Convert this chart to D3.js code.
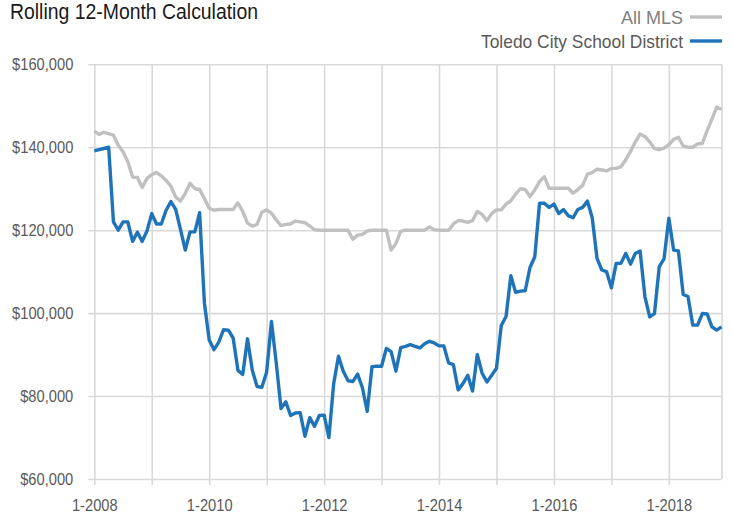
<!DOCTYPE html>
<html>
<head>
<meta charset="utf-8">
<script src="https://cdn.jsdelivr.net/npm/d3@7"></script>
<style>
  body { margin: 0; background: #fff; }
  svg text { font-family: "Liberation Sans", Arial, sans-serif; }
</style>
</head>
<body>
<div id="chart"></div>
<script>
// rolling 12-month median sale price, monthly from 1-2008 to 12-2018
const startYear = 2008;
const yearCount = 11;
const tickLabels = ["1-2008", "1-2010", "1-2012", "1-2014", "1-2016", "1-2018"];
const yTicks = [60000, 80000, 100000, 120000, 140000, 160000];
const seriesNames = ["All MLS", "Toledo City School District"];

const allMls = [
  143900, 143100, 143600, 143300, 142900, 140500, 138900, 136500, 132800, 132700, 130300, 132500,
  133400, 133900, 133100, 132000, 130600, 128000, 127000, 128900, 131300, 130000, 129800, 127600,
  125300, 124800, 125000, 125000, 125000, 125000, 126600, 124500, 121700, 121000, 121400, 124300,
  124900, 124100, 122500, 121100, 121400, 121500, 122200, 122000, 121800, 121000, 120100, 120000,
  120000, 120000, 120000, 120000, 120000, 120000, 117800, 118800, 119000, 119800, 120000, 120000,
  120000, 120000, 115200, 116800, 119700, 120000, 120000, 120000, 120000, 120000, 120800, 120100,
  120000, 120000, 120000, 121500, 122300, 122200, 121900, 122300, 124500, 123800, 122300, 124000,
  124900, 124900, 126300, 127100, 128700, 130000, 129800, 128100, 129700, 131700, 132900, 130100,
  130100, 130100, 130100, 130100, 128900, 129800, 130800, 133500, 133900, 134700, 134500, 134300,
  134900, 134900, 135300, 137000, 139000, 141300, 143200, 142600, 141300, 139700, 139400, 139800,
  140600, 141900, 142400, 140300, 140000, 140000, 140800, 140900, 144000, 146800, 149700, 149100
];

const toledo = [
  139100, 139400, 139700, 140000, 122000, 120000, 122000, 122000, 117300, 119500, 117300, 119800,
  124000, 121500, 121500, 124800, 126900, 125000, 120200, 115200, 119600, 119600, 124200, 102400,
  93500, 91200, 93000, 96000, 95900, 94000, 86200, 85200, 93800, 86200, 82300, 82100,
  85800, 98000, 88000, 77000, 78600, 75300, 75900, 76000, 70300, 74800, 72700, 75300,
  75400, 70000, 83000, 89600, 86000, 83700, 83500, 85300, 82000, 76300, 87100, 87200,
  87200, 91500, 90700, 86000, 91700, 92000, 92400, 92000, 91600, 92600, 93200, 92800,
  92100, 92100, 88000, 87600, 81500, 83000, 85000, 81200, 90000, 85500, 83400, 85000,
  86700, 97000, 99200, 109000, 105000, 105300, 105400, 111000, 113600, 126500, 126500, 125500,
  126300, 124000, 125000, 123500, 123000, 125000, 125500, 127000, 123000, 113200, 110400, 110000,
  106100, 112000, 112000, 114400, 111800, 114400, 115000, 104000, 99100, 99900, 111200, 113100,
  122900, 115200, 115000, 104500, 104000, 97100, 97100, 99900, 99800, 96700, 95900, 96700
];

const colors = ["#c0c0c0", "#1f74b9"];

// month categories "1-2008" ... "12-2018"
const months = [];
for (let y = 0; y < yearCount; y++) {
  for (let m = 1; m <= 12; m++) months.push(m + "-" + (startYear + y));
}

const W = 732, H = 514;
const margin = { top: 64.3, right: 10.5, bottom: 35, left: 94.3 };
const width = W - margin.left - margin.right;
const height = H - margin.top - margin.bottom;

// the reference font is a narrow face: squeeze labels a bit
function narrow(sel, k) {
  sel.each(function () {
    const len = this.getComputedTextLength();
    if (len > 0) {
      d3.select(this)
        .attr("textLength", len * k)
        .attr("lengthAdjust", "spacingAndGlyphs");
    }
  });
}

const svg = d3.select("#chart").append("svg")
  .attr("width", W)
  .attr("height", H);

const g = svg.append("g")
  .attr("transform", `translate(${margin.left},${margin.top})`);

const x = d3.scalePoint().domain(months).range([0, width]);
const y = d3.scaleLinear().domain([60000, 160000]).range([height, 0]);

// horizontal grid + y labels
const yAxis = g.append("g")
  .call(d3.axisLeft(y)
    .tickValues(yTicks)
    .tickSize(-width)
    .tickPadding(21)
    .tickFormat(d => "$" + d3.format(",")(d)));
yAxis.select(".domain").remove();
yAxis.selectAll(".tick line")
  .attr("x1", -6)
  .attr("stroke", "#d9d9d9")
  .attr("stroke-width", 1.6);
yAxis.selectAll(".tick text")
  .attr("fill", "#595959")
  .style("font-size", "16.5px")
  .call(narrow, 0.89);

// vertical grid every january, labels every other year
const janMonths = months.filter(d => d.startsWith("1-"));
const lastMonth = months[months.length - 1];
const xAxis = g.append("g")
  .attr("transform", `translate(0,${height})`)
  .call(d3.axisBottom(x)
    .tickValues(janMonths.concat([lastMonth]))
    .tickSize(-height)
    .tickPadding(20)
    .tickFormat(d => tickLabels.includes(d) ? d : ""));
xAxis.select(".domain").remove();
xAxis.selectAll(".tick line")
  .attr("y1", d => d === lastMonth ? 0 : 6)
  .attr("stroke", "#d9d9d9")
  .attr("stroke-width", 1.6);
xAxis.selectAll(".tick text")
  .attr("fill", "#595959")
  .style("font-size", "16.5px")
  .call(narrow, 0.89);

// lines
const line = d3.line()
  .x((d, i) => x(months[i]))
  .y(d => y(d));

[allMls, toledo].forEach((series, k) => {
  g.append("path")
    .datum(series)
    .attr("fill", "none")
    .attr("stroke", colors[k])
    .attr("stroke-width", 3.4)
    .attr("stroke-linejoin", "round")
    .attr("d", line);
});

// title
svg.append("text")
  .attr("x", 10)
  .attr("y", 18.5)
  .attr("fill", "#1a1a1a")
  .attr("textLength", 248)
  .attr("lengthAdjust", "spacingAndGlyphs")
  .style("font-size", "21.5px")
  .text("Rolling 12-Month Calculation");

// legend
const legendWidths = [62, 202];
const legend = svg.append("g");
seriesNames.forEach((name, k) => {
  const ly = 17 + k * 24;
  legend.append("text")
    .attr("x", 683)
    .attr("y", ly)
    .attr("dy", "0.35em")
    .attr("text-anchor", "end")
    .attr("fill", k === 0 ? "#808080" : "#595959")
    .attr("textLength", legendWidths[k])
    .attr("lengthAdjust", "spacingAndGlyphs")
    .style("font-size", "19px")
    .text(name);
  legend.append("line")
    .attr("x1", 690)
    .attr("x2", 722)
    .attr("y1", ly)
    .attr("y2", ly)
    .attr("stroke", colors[k])
    .attr("stroke-width", 3.4);
});
</script>
</body>
</html>
